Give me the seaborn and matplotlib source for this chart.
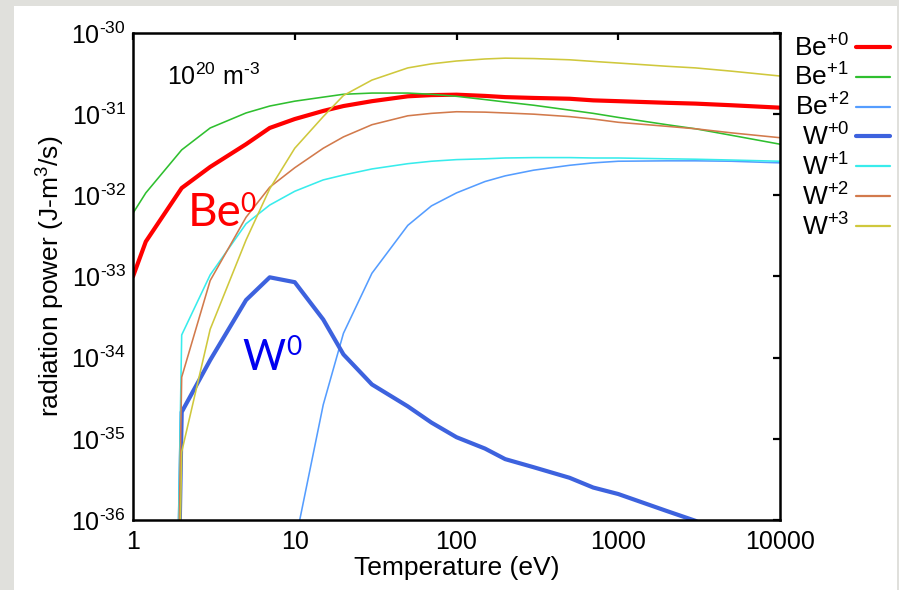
import numpy as np
import pandas as pd
import matplotlib
matplotlib.use("Agg")
import matplotlib.pyplot as plt
from matplotlib.lines import Line2D
from matplotlib.patches import Rectangle
import seaborn as sns

# Electron temperature grid (eV)
temperature = [1, 1.2, 2, 3, 5, 7, 10, 15, 20, 30, 50, 70, 100, 150, 200,
               300, 500, 700, 1000, 2000, 3000, 5000, 10000]

# log10 of radiated power coefficient (J m^3 / s) for each charge state.
# -60 stands for "effectively zero" below the first tabulated temperature.
be0_log = [-33.00, -32.57, -31.91, -31.65, -31.37, -31.17, -31.06, -30.96, -30.90,
           -30.84, -30.78, -30.765, -30.76, -30.775, -30.79, -30.80, -30.81, -30.83,
           -30.84, -30.86, -30.87, -30.89, -30.92]
be1_log = [-32.22, -31.97, -31.44, -31.17, -30.985, -30.90, -30.84, -30.79, -30.755,
           -30.74, -30.74, -30.755, -30.78, -30.82, -30.85, -30.89, -30.95, -30.99,
           -31.04, -31.13, -31.18, -31.26, -31.37]
be2_log = [np.nan, np.nan, np.nan, np.nan, np.nan, np.nan, -36.30, -34.58, -33.70,
           -32.96, -32.37, -32.13, -31.97, -31.83, -31.76, -31.69, -31.63, -31.60,
           -31.58, -31.575, -31.575, -31.58, -31.60]
w0_log = [-60, -60, -34.67, -34.03, -33.29, -33.01, -33.07, -33.53, -33.96,
          -34.33, -34.60, -34.80, -34.98, -35.12, -35.25, -35.35, -35.48, -35.60,
          -35.68, -35.89, -36.01, -36.25, -36.60]
w1_log = [-60, -60, -33.72, -32.98, -32.35, -32.12, -31.95, -31.81, -31.75,
          -31.675, -31.61, -31.58, -31.56, -31.55, -31.54, -31.535, -31.535, -31.54,
          -31.54, -31.55, -31.555, -31.565, -31.58]
w2_log = [-60, -60, -34.24, -33.05, -32.27, -31.90, -31.66, -31.42, -31.28,
          -31.13, -31.02, -30.99, -30.97, -30.975, -30.985, -31.00, -31.03, -31.06,
          -31.10, -31.15, -31.18, -31.23, -31.29]
w3_log = [-60, -60, -35.16, -33.65, -32.55, -31.92, -31.42, -31.03, -30.77,
          -30.58, -30.43, -30.38, -30.345, -30.32, -30.31, -30.315, -30.33, -30.35,
          -30.37, -30.41, -30.43, -30.47, -30.53]

ions = ["Be+0", "Be+1", "Be+2", "W+0", "W+1", "W+2", "W+3"]
legend_labels = [r"Be$^{+0}$", r"Be$^{+1}$", r"Be$^{+2}$", r"W$^{+0}$",
                 r"W$^{+1}$", r"W$^{+2}$", r"W$^{+3}$"]
series = [be0_log, be1_log, be2_log, w0_log, w1_log, w2_log, w3_log]

HYPHEN = "\u2010"
x_ticks = [1, 10, 100, 1000, 10000]
x_ticklabels = ["1", "10", "100", "1000", "10000"]
y_ticks = [1e-36, 1e-35, 1e-34, 1e-33, 1e-32, 1e-31, 1e-30]
y_ticklabels = ["10$^{" + HYPHEN + e + "}$" for e in ["36", "35", "34", "33", "32", "31", "30"]]

colors = {"Be+0": "#ff0000", "Be+1": "#2fbf2f", "Be+2": "#559dff",
          "W+0": "#3d62de", "W+1": "#38ecec", "W+2": "#d27a4c", "W+3": "#cfc83c"}
widths = {"Be+0": 3.0, "Be+1": 1.15, "Be+2": 1.15, "W+0": 3.0,
          "W+1": 1.15, "W+2": 1.15, "W+3": 1.15}

rows = []
for ion, vals in zip(ions, series):
    for t, v in zip(temperature, vals):
        if not np.isnan(v):
            rows.append({"T": t, "P": 10.0 ** v, "ion": ion})
df = pd.DataFrame(rows)

sns.set_style("white")
plt.rcParams["font.family"] = ["Liberation Sans", "DejaVu Sans"]
plt.rcParams["text.color"] = "black"
plt.rcParams["axes.labelcolor"] = "black"
plt.rcParams["xtick.color"] = "black"
plt.rcParams["ytick.color"] = "black"
plt.rcParams["mathtext.fontset"] = "custom"
plt.rcParams["mathtext.rm"] = "Liberation Sans"
plt.rcParams["mathtext.it"] = "Liberation Sans:italic"
plt.rcParams["mathtext.bf"] = "Liberation Sans:bold"
plt.rcParams["mathtext.default"] = "regular"

fig = plt.figure(figsize=(8.99, 5.90), dpi=100, facecolor="#e0e0dc")
fig.patches.append(Rectangle((14 / 899, 0), 883 / 899, 584 / 590,
                             transform=fig.transFigure, facecolor="white",
                             edgecolor="none", zorder=-10))
ax = fig.add_axes([133 / 899, 1 - 520 / 590, 647 / 899, 487 / 590])
ax.set_facecolor("white")
ax.set_xscale("log")
ax.set_yscale("log")

sns.lineplot(data=df, x="T", y="P", hue="ion", hue_order=ions, palette=colors,
             size="ion", size_order=ions, sizes=widths, estimator=None,
             sort=False, legend=False, ax=ax)

ax.set_xlim(1, 10000)
ax.set_ylim(1e-36, 1e-30)
ax.set_xticks(x_ticks)
ax.set_xticklabels(x_ticklabels)
ax.set_yticks(y_ticks)
ax.set_yticklabels(y_ticklabels)
ax.minorticks_off()
ax.tick_params(axis="both", which="major", direction="in", length=5, width=1.6,
               labelsize=18, top=True, right=True, pad=5, colors="black")
ax.tick_params(axis="x", pad=7)
for sp in ax.spines.values():
    sp.set_linewidth(1.8)
    sp.set_color("black")

ax.set_xlabel("Temperature (eV)", fontsize=19, labelpad=2)
ax.set_ylabel(r"radiation power (J-m$^3$/s)", fontsize=19, labelpad=3)

ax.text(0.0526, 0.893, "10$^{20}$ m$^{" + HYPHEN + "3}$", transform=ax.transAxes,
        fontsize=18, va="baseline", ha="left")

# Species labels next to the neutral curves
ax.text(0.085, 0.6037, "Be", transform=ax.transAxes, fontsize=33,
        family="Lato", color="#ff0000", va="baseline", ha="left")
ax.text(0.1654, 0.6324, "0", transform=ax.transAxes, fontsize=19,
        family="Lato", color="#ff0000", va="baseline", ha="left")
ax.text(0.1685, 0.308, "W", transform=ax.transAxes, fontsize=30,
        family="Lato", color="#0000f0", va="baseline", ha="left")
ax.text(0.2365, 0.3388, "0", transform=ax.transAxes, fontsize=19,
        family="Lato", color="#0000f0", va="baseline", ha="left")

handles = [Line2D([], [], color=colors[i], lw=widths[i] if widths[i] > 2 else 1.6)
           for i in ions]
fig.legend(handles, legend_labels, loc="upper right",
           bbox_to_anchor=(890 / 899, 1 - 34 / 590), frameon=False,
           markerfirst=False, fontsize=19, handlelength=1.3,
           handletextpad=0.25, labelspacing=0.1, borderpad=0,
           borderaxespad=0)

fig.savefig("out.png", dpi=100, facecolor=fig.get_facecolor())
